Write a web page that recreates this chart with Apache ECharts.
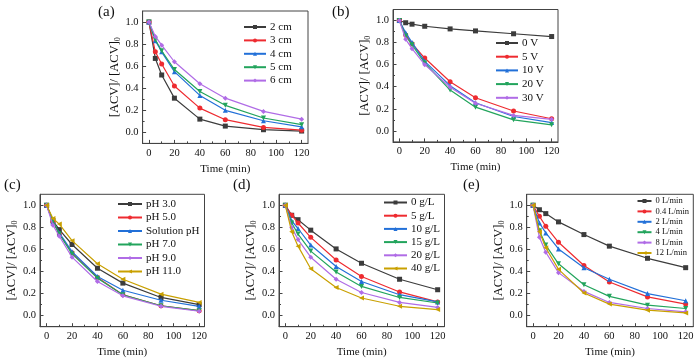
<!DOCTYPE html>
<html><head><meta charset="utf-8">
<script src="https://cdn.jsdelivr.net/npm/echarts@6/dist/echarts.min.js"></script>
<style>html,body{margin:0;padding:0;background:#fff}#c{width:700px;height:361px}</style>
</head><body><div id="c"></div>
<script>
// ---- data ----
const time = [0, 5, 10, 20, 40, 60, 90, 120];
const xTickValues = [0, 20, 40, 60, 80, 100, 120];
const xMinorValues = [10, 30, 50, 70, 90, 110];
const yTickValues = [0, 0.2, 0.4, 0.6, 0.8, 1.0];
const yMinorValues = [0.1, 0.3, 0.5, 0.7, 0.9];
const panelLabels = ['(a)', '(b)', '(c)', '(d)', '(e)'];
const xAxisTitle = 'Time (min)';

// (a) electrode distance
const namesA = ['2 cm', '3 cm', '4 cm', '5 cm', '6 cm'];
const a2cm = [1.00, 0.67, 0.52, 0.31, 0.12, 0.057, 0.024, 0.012];
const a3cm = [1.00, 0.73, 0.62, 0.42, 0.22, 0.115, 0.045, 0.02];
const a4cm = [1.00, 0.83, 0.73, 0.55, 0.335, 0.20, 0.105, 0.05];
const a5cm = [1.00, 0.84, 0.74, 0.57, 0.37, 0.245, 0.13, 0.07];
const a6cm = [1.00, 0.87, 0.79, 0.64, 0.44, 0.31, 0.19, 0.12];

// (b) voltage
const namesB = ['0 V', '5 V', '10 V', '20 V', '30 V'];
const b0V = [1.00, 0.98, 0.967, 0.948, 0.924, 0.906, 0.88, 0.855];
const b5V = [1.00, 0.87, 0.79, 0.66, 0.445, 0.30, 0.18, 0.11];
const b10V = [1.00, 0.89, 0.80, 0.63, 0.41, 0.255, 0.13, 0.075];
const b20V = [1.00, 0.86, 0.78, 0.615, 0.37, 0.215, 0.10, 0.055];
const b30V = [1.00, 0.83, 0.745, 0.60, 0.395, 0.25, 0.14, 0.105];

// (c) pH
const namesC = ['pH 3.0', 'pH 5.0', 'Solution pH', 'pH 7.0', 'pH 9.0', 'pH 11.0'];
const cPH3 = [1.00, 0.86, 0.78, 0.645, 0.43, 0.295, 0.165, 0.10];
const cPH5 = [1.00, 0.85, 0.74, 0.57, 0.345, 0.19, 0.09, 0.045];
const cPHsol = [1.00, 0.85, 0.75, 0.58, 0.355, 0.23, 0.14, 0.085];
const cPH7 = [1.00, 0.86, 0.74, 0.56, 0.34, 0.19, 0.09, 0.045];
const cPH9 = [1.00, 0.82, 0.72, 0.53, 0.31, 0.18, 0.085, 0.04];
const cPH11 = [1.00, 0.88, 0.83, 0.68, 0.47, 0.33, 0.195, 0.12];

// (d) dosage
const namesD = ['0 g/L', '5 g/L', '10 g/L', '15 g/L', '20 g/L', '40 g/L'];
const d0 = [1.00, 0.91, 0.87, 0.775, 0.605, 0.475, 0.33, 0.235];
const d5 = [1.00, 0.91, 0.84, 0.71, 0.505, 0.355, 0.215, 0.125];
const d10 = [1.00, 0.86, 0.79, 0.64, 0.445, 0.31, 0.19, 0.125];
const d15 = [1.00, 0.84, 0.74, 0.585, 0.395, 0.265, 0.165, 0.115];
const d20 = [1.00, 0.80, 0.69, 0.53, 0.33, 0.21, 0.12, 0.075];
const d40 = [1.00, 0.76, 0.63, 0.425, 0.255, 0.16, 0.085, 0.055];

// (e) aeration
const namesE = ['0 L/min', '0.4 L/min', '2 L/min', '4 L/min', '8 L/min', '12 L/min'];
const e0 = [1.00, 0.96, 0.925, 0.85, 0.735, 0.63, 0.52, 0.435];
const e04 = [1.00, 0.90, 0.81, 0.665, 0.455, 0.305, 0.17, 0.105];
const e2 = [1.00, 0.84, 0.75, 0.605, 0.435, 0.33, 0.20, 0.135];
const e4 = [1.00, 0.77, 0.64, 0.47, 0.28, 0.175, 0.095, 0.065];
const e8 = [1.00, 0.71, 0.575, 0.39, 0.22, 0.12, 0.065, 0.035];
const e12 = [1.00, 0.76, 0.615, 0.42, 0.205, 0.105, 0.05, 0.025];

const panelNames = [namesA, namesB, namesC, namesD, namesE];
const panelValues = [
  [a2cm, a3cm, a4cm, a5cm, a6cm],
  [b0V, b5V, b10V, b20V, b30V],
  [cPH3, cPH5, cPHsol, cPH7, cPH9, cPH11],
  [d0, d5, d10, d15, d20, d40],
  [e0, e04, e2, e4, e8, e12]
];

// ---- styles / layout ----
const FONT = 'Liberation Serif';
const colors = ['#3c3c3c', '#ee2b30', '#2270d8', '#22a45c', '#b06ce6', '#c9a000'];
const symbols = ['rect', 'circle', 'triangle', 'path://M0,0 L100,0 L50,90 Z', 'diamond', 'path://M0,50 L90,0 L90,100 Z'];
const grids = [
  { left: 142.6, top: 11, width: 165.4, height: 132.4 },
  { left: 393, top: 9.5, width: 165, height: 132.4 },
  { left: 40, top: 194.3, width: 164.5, height: 132.4 },
  { left: 279, top: 194.3, width: 165.5, height: 132.4 },
  { left: 526.7, top: 194.3, width: 166.6, height: 132.4 }
];
const xRanges = [[-5, 125], [-5, 125], [-5.2, 124.2], [-5, 125.4], [-5, 126]];
const labelPos = [[98, 5], [332, 5], [4, 178], [233, 178], [463, 178]];
const legendPos = [
  { left: 243, top: 21, itemWidth: 22, fontSize: 11, lh: 12, gap: 1.4 },
  { left: 495, top: 37, itemWidth: 22, fontSize: 11, lh: 12, gap: 1.7 },
  { left: 117, top: 198, itemWidth: 24, fontSize: 11, lh: 12, gap: 1.5 },
  { left: 383, top: 196.5, itemWidth: 23, fontSize: 11, lh: 12, gap: 1.2 },
  { left: 636.5, top: 196, itemWidth: 14, fontSize: 8.5, lh: 10, gap: 0.4 }
];
const AXC = '#444';

const option = {
  animation: false,
  backgroundColor: '#fff',
  textStyle: { fontFamily: FONT },
  title: [], grid: [], xAxis: [], yAxis: [], legend: [], series: []
};

for (let p = 0; p < 5; p++) {
  const g = grids[p];
  option.grid.push(Object.assign({ show: true, borderColor: AXC, borderWidth: 1, backgroundColor: 'transparent', containLabel: false }, g));
  option.title.push({ text: panelLabels[p], left: labelPos[p][0], top: labelPos[p][1], padding: 0,
    textStyle: { fontFamily: FONT, fontSize: 15, fontWeight: 'normal', color: '#111' } });
  const [xmin, xmax] = xRanges[p];
  option.xAxis.push({
    gridIndex: p, type: 'value', min: xmin, max: xmax, position: 'bottom',
    axisLine: { show: true, onZero: false, lineStyle: { color: AXC, width: 1 } },
    axisTick: { show: true, inside: true, length: 3.5, customValues: xTickValues, lineStyle: { color: AXC, width: 1 } },
    axisLabel: { customValues: xTickValues, fontFamily: FONT, fontSize: 10.5, color: '#111', margin: 4 },
    splitLine: { show: false },
    name: xAxisTitle, nameLocation: 'middle', nameGap: 20,
    nameTextStyle: { fontFamily: FONT, fontSize: 11, color: '#111' }
  });
  option.xAxis.push({
    gridIndex: p, type: 'value', min: xmin, max: xmax, position: 'bottom',
    axisLine: { show: false, onZero: false },
    axisTick: { show: true, inside: true, length: 2, customValues: xMinorValues, lineStyle: { color: AXC, width: 1 } },
    axisLabel: { show: false }, splitLine: { show: false }
  });
  option.yAxis.push({
    gridIndex: p, type: 'value', min: -0.1, max: 1.1, position: 'left',
    axisLine: { show: true, onZero: false, lineStyle: { color: AXC, width: 1 } },
    axisTick: { show: true, inside: true, length: 3.5, customValues: yTickValues, lineStyle: { color: AXC, width: 1 } },
    axisLabel: { customValues: yTickValues, fontFamily: FONT, fontSize: 10.5, color: '#111', margin: 4,
      formatter: v => v.toFixed(1) },
    splitLine: { show: false },
    name: '[ACV]/ [ACV]{s|0}', nameLocation: 'middle', nameGap: 21, nameRotate: 90,
    nameTextStyle: { fontFamily: FONT, fontSize: 12.5, color: '#111', lineHeight: 14,
      rich: { s: { fontFamily: FONT, fontSize: 8, lineHeight: 14, verticalAlign: 'bottom', color: '#111', padding: [5, 0, 0, 0] } } }
  });
  option.yAxis.push({
    gridIndex: p, type: 'value', min: -0.1, max: 1.1, position: 'left',
    axisLine: { show: false, onZero: false },
    axisTick: { show: true, inside: true, length: 2, customValues: yMinorValues, lineStyle: { color: AXC, width: 1 } },
    axisLabel: { show: false }, splitLine: { show: false }
  });
  const names = panelNames[p];
  const lp = legendPos[p];
  option.legend.push({
    data: names, orient: 'vertical', left: lp.left, top: lp.top, padding: 0,
    itemWidth: lp.itemWidth, itemHeight: 5, itemGap: lp.gap,
    textStyle: { fontFamily: FONT, fontSize: lp.fontSize, color: '#111', lineHeight: lp.lh, padding: [0, 0, 0, -1] },
    selectedMode: false
  });
  names.forEach((nm, i) => {
    option.series.push({
      type: 'line', name: nm, xAxisIndex: 2 * p, yAxisIndex: 2 * p,
      data: time.map((t, k) => [t, panelValues[p][i][k]]),
      color: colors[i], symbol: symbols[i], symbolSize: 5, showSymbol: true,
      lineStyle: { width: 1.2, color: colors[i] }, itemStyle: { color: colors[i] },
      z: 2 + i
    });
  });
}

const chart = echarts.init(document.getElementById('c'), null, { renderer: 'canvas' });
chart.setOption(option);
</script>
</body></html>
